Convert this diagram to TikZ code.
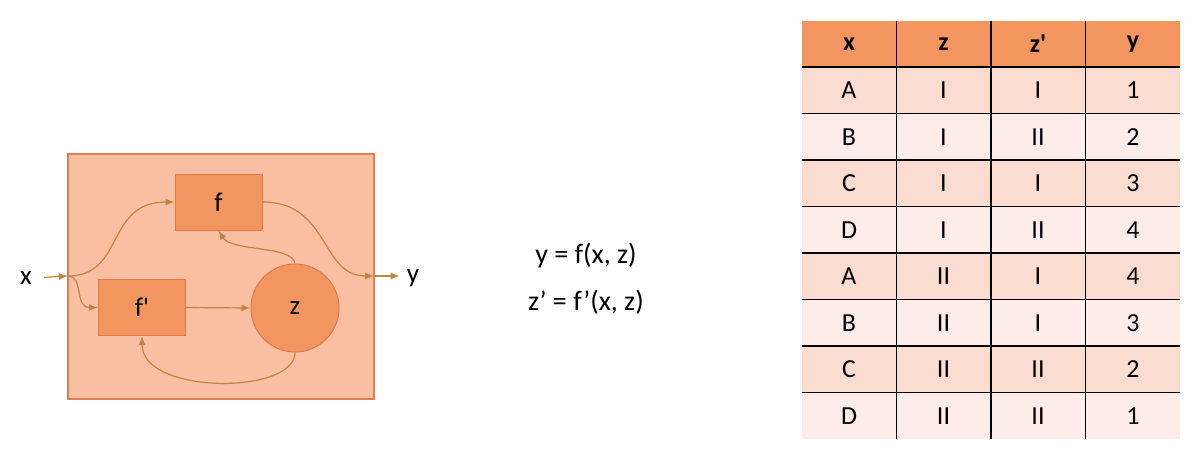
\documentclass[tikz,border=0pt]{standalone}
\usepackage{fontspec}
\setmainfont{Carlito}
\usetikzlibrary{arrows.meta}
\definecolor{outerfill}{HTML}{F8BFA2}
\definecolor{outerdraw}{HTML}{E37E52}
\definecolor{boxfill}{HTML}{F3955F}
\definecolor{boxdraw}{HTML}{DD7A48}
\definecolor{arrcol}{HTML}{BF8441}
\definecolor{hdr}{HTML}{F3955F}
\definecolor{rowa}{HTML}{FADCD1}
\definecolor{rowb}{HTML}{FDEDE9}
\tikzset{
  arr/.style={draw=arrcol, line width=1.2pt, -{Latex[length=9pt,width=7pt]}},
  fbox/.style={draw=boxdraw, fill=boxfill, line width=1pt, minimum width=87pt, minimum height=56pt, inner sep=0pt, font=\fontsize{27}{30}\selectfont},
  zcirc/.style={circle, draw=boxdraw, fill=boxfill, line width=1pt, minimum size=88pt, inner sep=0pt, font=\fontsize{27}{30}\selectfont},
  lbl/.style={font=\fontsize{27}{30}\selectfont, inner sep=0pt},
  eq/.style={font=\fontsize{28}{32}\selectfont, inner sep=0pt},
  cell/.style={font=\fontsize{26}{30}\selectfont, inner sep=0pt, anchor=center},
  hcell/.style={cell, font=\fontsize{26}{30}\selectfont\bfseries},
  grid/.style={draw=black, line width=1.4pt}
}
\begin{document}
\begin{tikzpicture}[x=1pt,y=-1pt]
\useasboundingbox (0,0) rectangle (1200,459);
% outer box
\node[draw=outerdraw, fill=outerfill, line width=1.2pt, minimum width=306pt, minimum height=245pt, inner sep=0pt] (outer) at (221,276.5) {};
\node[fbox] (f) at (218.5,202) {f};
\node[fbox] (fp) at (142,307.5) {f\textquotesingle};
\node[zcirc] (z) at (295,308) {z};
\node[lbl] (xl) at (26,278) {x};
\node[lbl] (yl) at (413,278) {y};
\coordinate (xin) at (68,276);
\coordinate (xout) at (374,276);
\draw[arr, shorten <=12pt] (xl.east) -- (xin);
\draw[arr] (xin) .. controls (125,276) and (105,202) .. (f.west);
\draw[arr] (xin) .. controls (84,276) and (74,307.5) .. (fp.west);
\draw[arr] (f.east) .. controls (330,202) and (320,276) .. (xout);
\draw[arr, shorten >=7pt] (xout) -- (yl.west |- xout);
\draw[arr] (fp.east) -- (z.west);
\draw[arr] (z.north) .. controls (292,245) and (232,252) .. (f.south);
\draw[arr] (z.south) .. controls (295,395) and (142,395) .. (fp.south);
% equations
\node[eq] (eq1) at (586,256) {y = f(x, z)};
\node[eq] (eq2) at (586,302) {z’ = f’(x, z)};
% table
\fill[hdr] (802,21) rectangle (1180,67);
\foreach \i in {0,...,7}{
  \ifodd\i
    \fill[rowb] (802,67+46.5*\i) rectangle (1180,67+46.5*\i+46.5);
  \else
    \fill[rowa] (802,67+46.5*\i) rectangle (1180,67+46.5*\i+46.5);
  \fi
}
\foreach \i in {0,...,7}{
  \draw[grid] (802,67+46.5*\i) -- (1180,67+46.5*\i);
}
\foreach \xx in {896.5,991,1085.5}{
  \draw[grid] (\xx,21) -- (\xx,439);
}
\node[hcell] (h1) at (849,44) {x};
\node[hcell] (h2) at (943.5,44) {z};
\node[hcell] (h3) at (1038,44) {z\textquotesingle};
\node[hcell] (h4) at (1133,44) {y};
\foreach \a/\b/\c/\d [count=\k from 0] in {A/I/I/1, B/I/II/2, C/I/I/3, D/I/II/4, A/II/I/4, B/II/I/3, C/II/II/2, D/II/II/1}{
  \node[cell] (r\k a) at (849,90.25+46.5*\k) {\a};
  \node[cell] (r\k b) at (943.5,90.25+46.5*\k) {\b};
  \node[cell] (r\k c) at (1038,90.25+46.5*\k) {\c};
  \node[cell] (r\k d) at (1133,90.25+46.5*\k) {\d};
}
\end{tikzpicture}
\end{document}
